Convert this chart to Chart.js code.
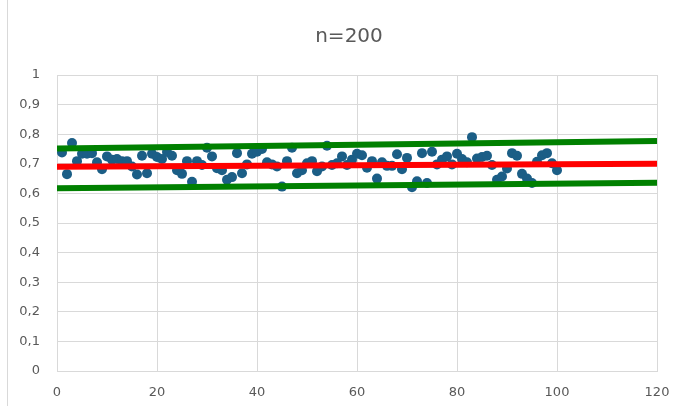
<!DOCTYPE html>
<html>
<head>
<meta charset="utf-8">
<script src="https://cdn.jsdelivr.net/npm/chart.js@4"></script>
<style>
  html, body { margin: 0; padding: 0; background: #fff; }
  #wrap { width: 677px; height: 406px; }
</style>
</head>
<body>
<div id="wrap"><canvas id="chart" width="677" height="406"></canvas></div>
<script>
// sample values, one per observation (x = 1..100)
const samples = [
  0.738, 0.665, 0.770, 0.709, 0.734, 0.734, 0.736, 0.705, 0.682, 0.725,
  0.714, 0.716, 0.709, 0.709, 0.691, 0.664, 0.727, 0.668, 0.734, 0.723,
  0.716, 0.740, 0.727, 0.678, 0.666, 0.709, 0.639, 0.709, 0.696, 0.754,
  0.725, 0.685, 0.678, 0.646, 0.655, 0.736, 0.668, 0.698, 0.734, 0.741,
  0.750, 0.705, 0.698, 0.691, 0.623, 0.709, 0.754, 0.668, 0.678, 0.702,
  0.709, 0.675, 0.691, 0.761, 0.696, 0.702, 0.725, 0.696, 0.714, 0.734,
  0.729, 0.687, 0.709, 0.650, 0.705, 0.693, 0.693, 0.732, 0.682, 0.720,
  0.621, 0.641, 0.736, 0.635, 0.741, 0.698, 0.714, 0.725, 0.698, 0.734,
  0.716, 0.705, 0.790, 0.718, 0.723, 0.727, 0.696, 0.646, 0.657, 0.684,
  0.736, 0.727, 0.666, 0.650, 0.635, 0.707, 0.729, 0.736, 0.702, 0.678
];

// reference lines, start (x=0) and end (x=120)
const lineX = [0, 120];
const meanLine = [0.690, 0.700];
const upperLine = [0.752, 0.777];
const lowerLine = [0.617, 0.636];

const titleText = 'n=200';

const points = samples.map((v, i) => ({ x: i + 1, y: v }));
const toXY = arr => arr.map((v, i) => ({ x: lineX[i], y: v }));

const textColor = '#595959';
const gridColor = '#d9d9d9';
const fontFamily = 'DejaVu Sans';

// frame line on the left edge + title (Excel puts it a bit right of centre)
const decor = {
  id: 'decor',
  beforeDraw(chart) {
    const c = chart.ctx;
    c.save();
    c.strokeStyle = gridColor;
    c.lineWidth = 1;
    c.beginPath();
    c.moveTo(7.5, 0);
    c.lineTo(7.5, chart.height);
    c.stroke();
    c.fillStyle = textColor;
    c.font = '20px "' + fontFamily + '"';
    c.textAlign = 'center';
    c.textBaseline = 'middle';
    c.fillText(titleText, 349, 37);
    c.restore();
  }
};

const lineSet = (data, color, order) => ({
  data: toXY(data),
  showLine: true,
  borderColor: color,
  borderWidth: 6,
  pointRadius: 0,
  fill: false,
  order: order
});

new Chart(document.getElementById('chart'), {
  type: 'scatter',
  data: {
    datasets: [
      lineSet(meanLine, '#ff0000', 1),
      lineSet(upperLine, '#008000', 2),
      lineSet(lowerLine, '#008000', 3),
      {
        data: points,
        backgroundColor: '#1b5e86',
        borderColor: '#1b5e86',
        borderWidth: 0,
        pointRadius: 5,
        order: 10
      }
    ]
  },
  options: {
    responsive: false,
    animation: false,
    layout: { padding: { left: 0, right: 20, top: 75, bottom: 0 } },
    plugins: {
      legend: { display: false },
      tooltip: { enabled: false },
      title: { display: false }
    },
    scales: {
      x: {
        type: 'linear',
        min: 0,
        max: 120,
        ticks: {
          stepSize: 20,
          color: textColor,
          font: { family: fontFamily, size: 13 },
          padding: 14
        },
        grid: { color: gridColor, drawTicks: false },
        border: { color: gridColor },
        afterFit: s => { s.height = 35; s.paddingLeft = 0; s.paddingRight = 0; }
      },
      y: {
        min: 0,
        max: 1,
        ticks: {
          stepSize: 0.1,
          color: textColor,
          font: { family: fontFamily, size: 13 },
          padding: 17,
          callback: v => String(Math.round(v * 10) / 10).replace('.', ',')
        },
        grid: { color: gridColor, drawTicks: false },
        border: { display: false },
        afterFit: s => { s.width = 57; }
      }
    }
  },
  plugins: [decor]
});
</script>
</body>
</html>
